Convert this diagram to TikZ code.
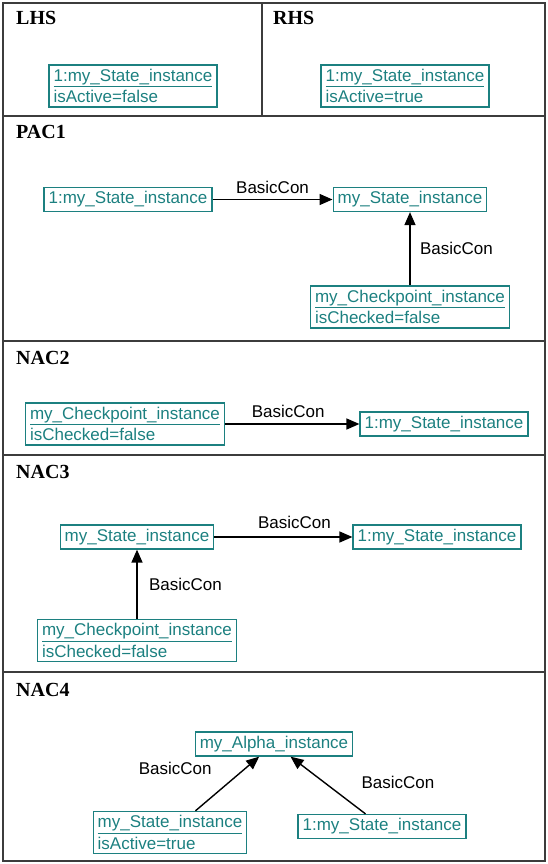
\documentclass[tikz,border=0pt]{standalone}
\usepackage{fontspec}
\setmainfont{Liberation Sans}
\newfontfamily\secfont{Liberation Serif}
\usepackage{xcolor}
\usepackage{tikz}
\usetikzlibrary{arrows.meta,positioning}
\definecolor{objteal}{RGB}{28,128,128}
\definecolor{framegray}{RGB}{60,60,60}
\tikzset{
  objbox/.style={rectangle, draw=objteal, text=objteal, line width=1.4pt, align=left,
    inner xsep=4.5pt, inner ysep=4pt, font=\fontsize{17}{21.5}\selectfont},
  conlabel/.style={font=\fontsize{17}{20}\selectfont, text=black},
  seclabel/.style={anchor=base west, inner sep=0pt, font=\secfont\bfseries\fontsize{20}{22}\selectfont},
  frame/.style={draw=framegray, line width=1.6pt},
  con/.style={-{Triangle[length=13pt,width=11pt]}, line width=1.4pt, black}
}

\begin{document}
\begin{tikzpicture}[x=1pt, y=-1pt]
  \useasboundingbox (0,0) rectangle (548,864);
  % table frame
  \draw[frame] (3,3) rectangle (545,861);
  \draw[frame] (262,3) -- (262,116);
  \foreach \ypos in {116,341,455,672}
    \draw[frame] (3,\ypos) -- (545,\ypos);

  % section titles
  \node[seclabel] (lhs) at (16,25) {LHS};
  \node[seclabel] (rhs) at (273,25) {RHS};
  \node[seclabel] (pac1) at (16,139) {PAC1};
  \node[seclabel] (nac2) at (16,364) {NAC2};
  \node[seclabel] (nac3) at (16,478) {NAC3};
  \node[seclabel] (nac4) at (16,696) {NAC4};

  % LHS / RHS
  \node[objbox] (lhsstate) at (133,86) {\underline{1:my\_State\_instance}\\isActive=false};
  \node[objbox] (rhsstate) at (405,86) {\underline{1:my\_State\_instance}\\isActive=true};

  % PAC1
  \node[objbox] (pacone) at (128,199.5) {1:my\_State\_instance};
  \node[objbox] (pacstate) at (410,199.5) {my\_State\_instance};
  \node[objbox] (paccheck) at (410,307) {\underline{my\_Checkpoint\_instance}\\isChecked=false};
  \draw[con] (pacone) -- node[conlabel, above=2pt] (pacconA) {BasicCon} (pacstate);
  \draw[con] (paccheck) -- node[conlabel, right=6pt] (pacconB) {BasicCon} (pacstate);

  % NAC2
  \node[objbox] (nactwocheck) at (125,424) {\underline{my\_Checkpoint\_instance}\\isChecked=false};
  \node[objbox] (nactwoone) at (444,424) {1:my\_State\_instance};
  \draw[con] (nactwocheck) -- node[conlabel, above=2pt, pos=0.47] (nactwocon) {BasicCon} (nactwoone);

  % NAC3
  \node[objbox] (nacthreestate) at (137,537) {my\_State\_instance};
  \node[objbox] (nacthreeone) at (437,537) {1:my\_State\_instance};
  \node[objbox] (nacthreecheck) at (137,640.5) {\underline{my\_Checkpoint\_instance}\\isChecked=false};
  \draw[con] (nacthreestate) -- node[conlabel, above=4pt, pos=0.58] (nacthreeconA) {BasicCon} (nacthreeone);
  \draw[con] (nacthreecheck) -- node[conlabel, right=8pt] (nacthreeconB) {BasicCon} (nacthreestate);

  % NAC4
  \node[objbox] (nacfouralpha) at (274,744) {my\_Alpha\_instance};
  \node[objbox] (nacfourstate) at (170,832.5) {\underline{my\_State\_instance}\\isActive=true};
  \node[objbox] (nacfourone) at (382,826.5) {1:my\_State\_instance};
  \draw[con] (nacfourstate) -- node[conlabel, above left=0pt and 18pt, pos=0.6] (nacfourconA) {BasicCon} (nacfouralpha);
  \draw[con] (nacfourone) -- node[conlabel, above right=-2pt and 22pt, pos=0.4] (nacfourconB) {BasicCon} (nacfouralpha);
\end{tikzpicture}
\end{document}
